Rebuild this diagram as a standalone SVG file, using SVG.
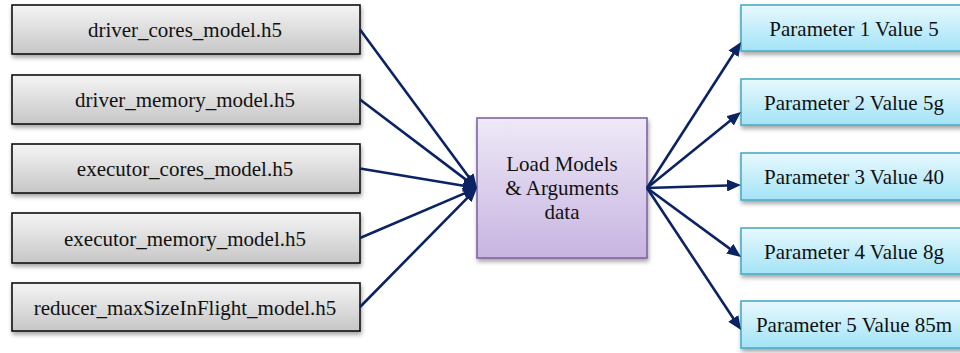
<svg xmlns="http://www.w3.org/2000/svg" width="960" height="353" viewBox="0 0 960 353">
  <defs>
    <linearGradient id="gGray" x1="0" y1="0" x2="0" y2="1">
      <stop offset="0" stop-color="#f5f5f5"/>
      <stop offset="1" stop-color="#c6c6c6"/>
    </linearGradient>
    <linearGradient id="gPurple" x1="0" y1="0" x2="0" y2="1">
      <stop offset="0" stop-color="#eee9f7"/>
      <stop offset="1" stop-color="#c7b4e1"/>
    </linearGradient>
    <linearGradient id="gAqua" x1="0" y1="0" x2="0" y2="1">
      <stop offset="0" stop-color="#e8f9fe"/>
      <stop offset="1" stop-color="#a3e3f6"/>
    </linearGradient>
    <filter id="shadow" x="-10%" y="-20%" width="120%" height="150%">
      <feDropShadow dx="1" dy="3" stdDeviation="2" flood-color="#000" flood-opacity="0.35"/>
    </filter>
    <marker id="arrow" viewBox="0 0 14 12" refX="8" refY="6" markerWidth="14" markerHeight="12" markerUnits="userSpaceOnUse" orient="auto">
      <path d="M0,0 L14,6 L0,12 z" fill="#0b2363"/>
    </marker>
  </defs>
  <style>
    .src rect { fill: url(#gGray); stroke: #111; stroke-width: 1.6; filter: url(#shadow); }
    .hub rect { fill: url(#gPurple); stroke: #8064a2; stroke-width: 1.6; filter: url(#shadow); }
    .out rect { fill: url(#gAqua); stroke: #4bacc6; stroke-width: 1.6; filter: url(#shadow); }
    text { font-family: "Liberation Serif", "Times New Roman", serif; font-size: 21px; fill: #111; text-anchor: middle; }
    .links line { stroke: #0b2363; stroke-width: 2.6; marker-end: url(#arrow); }
  </style>

  <!-- input model files -->
  <g id="driver_cores" class="src">
    <rect x="12" y="5" width="348" height="49"/>
    <text x="185" y="37">driver_cores_model.h5</text>
  </g>
  <g id="driver_memory" class="src">
    <rect x="12" y="75" width="348" height="49"/>
    <text x="185" y="107">driver_memory_model.h5</text>
  </g>
  <g id="executor_cores" class="src">
    <rect x="12" y="144" width="348" height="49"/>
    <text x="185" y="176">executor_cores_model.h5</text>
  </g>
  <g id="executor_memory" class="src">
    <rect x="12" y="213" width="348" height="50"/>
    <text x="185" y="245.5">executor_memory_model.h5</text>
  </g>
  <g id="reducer_maxSizeInFlight" class="src">
    <rect x="12" y="283" width="348" height="48"/>
    <text x="185" y="314.5">reducer_maxSizeInFlight_model.h5</text>
  </g>

  <!-- loader -->
  <g id="load_models" class="hub">
    <rect x="477" y="118" width="170" height="140"/>
    <text x="562" y="170.5">Load Models</text>
    <text x="562" y="195">&amp; Arguments</text>
    <text x="562" y="219">data</text>
  </g>

  <!-- resulting parameters -->
  <g id="param1" class="out">
    <rect x="741" y="5" width="225" height="46"/>
    <text x="854" y="35.5">Parameter 1 Value 5</text>
  </g>
  <g id="param2" class="out">
    <rect x="741" y="79" width="225" height="46"/>
    <text x="854" y="109.5">Parameter 2 Value 5g</text>
  </g>
  <g id="param3" class="out">
    <rect x="741" y="153" width="225" height="47"/>
    <text x="854" y="184">Parameter 3 Value 40</text>
  </g>
  <g id="param4" class="out">
    <rect x="741" y="228" width="225" height="46"/>
    <text x="854" y="258.5">Parameter 4 Value 8g</text>
  </g>
  <g id="param5" class="out">
    <rect x="741" y="301" width="225" height="47"/>
    <text x="854" y="332">Parameter 5 Value 85m</text>
  </g>

  <!-- connectors -->
  <g id="connectors" class="links">
    <line x1="360" y1="29.5" x2="473.4" y2="183.2"/>
    <line x1="360" y1="99.5" x2="472.2" y2="184.4"/>
    <line x1="360" y1="168.5" x2="471.1" y2="187.0"/>
    <line x1="360" y1="238" x2="471.5" y2="190.4"/>
    <line x1="360" y1="307" x2="472.8" y2="192.3"/>
    <line x1="647" y1="188" x2="737.8" y2="47.0"/>
    <line x1="647" y1="188" x2="736.3" y2="115.8"/>
    <line x1="647" y1="188" x2="735" y2="185.2"/>
    <line x1="647" y1="188" x2="736.2" y2="253.4"/>
    <line x1="647" y1="188" x2="737.7" y2="325.0"/>
  </g>
</svg>
